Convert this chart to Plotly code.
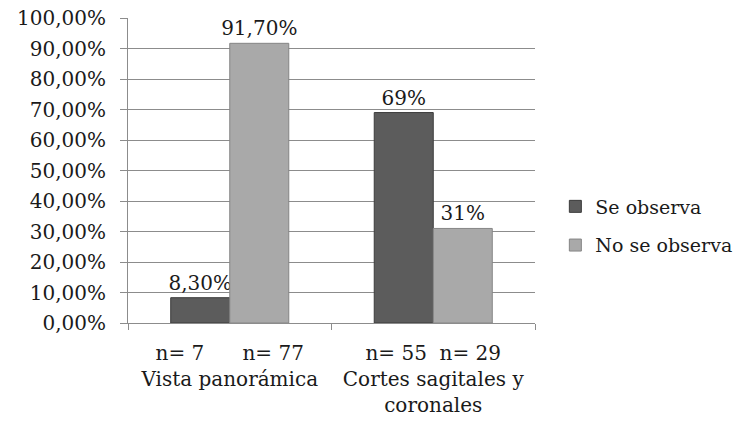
import plotly.graph_objects as go

categories = ["Vista panorámica", "Cortes sagitales y coronales"]
category_labels = ["Vista panorámica", "Cortes sagitales y<br>coronales"]
n_se = ["n= 7", "n= 55"]
n_no = ["n= 77", "n= 29"]
se_observa = [8.3, 69]
no_se_observa = [91.7, 31]
se_text = ["8,30%", "69%"]
no_text = ["91,70%", "31%"]
y_ticks = [0, 10, 20, 30, 40, 50, 60, 70, 80, 90, 100]
y_ticktext = ["0,00%", "10,00%", "20,00%", "30,00%", "40,00%", "50,00%",
              "60,00%", "70,00%", "80,00%", "90,00%", "100,00%"]

FONT = "DejaVu Serif"
FS = 20
NB = "\u00a0"
gaps = [6, 2]
ticktext = [f"{a}{NB * g}{b}<br>{c}" for a, b, c, g in zip(n_se, n_no, category_labels, gaps)]

fig = go.Figure()
fig.add_trace(go.Bar(
    name="Se observa", x=categories, y=se_observa, text=se_text,
    textposition="outside", cliponaxis=False, legendgroup="a",
    constraintext="none",
    marker=dict(color="#5c5c5c", line=dict(color="#3c3c3c", width=1)),
    textfont=dict(family=FONT, size=FS, color="#1a1a1a"),
))
fig.add_trace(go.Bar(
    name="No se observa", x=categories, y=no_se_observa, text=no_text,
    textposition="outside", cliponaxis=False, legendgroup="b",
    constraintext="none",
    marker=dict(color="#a9a9a9", line=dict(color="#858585", width=1)),
    textfont=dict(family=FONT, size=FS, color="#1a1a1a"),
))

fig.update_layout(
    width=744, height=430,
    margin=dict(l=128, r=209, t=18, b=107, autoexpand=False),
    paper_bgcolor="white", plot_bgcolor="white",
    barmode="group", bargap=0.42, bargroupgap=0,
    font=dict(family=FONT, size=FS, color="#1a1a1a"),
    showlegend=True,
    legend=dict(x=1.05, y=0.318, xanchor="left", yanchor="middle",
                tracegroupgap=11, itemwidth=30,
                font=dict(family=FONT, size=19, color="#1a1a1a"),
                bgcolor="rgba(0,0,0,0)"),
)
fig.update_xaxes(
    type="category", tickmode="array", tickvals=categories, ticktext=ticktext,
    tickson="boundaries", ticks="outside", ticklen=6, tickcolor="#8c8c8c",
    showline=True, linecolor="#8c8c8c", linewidth=1, showgrid=False,
    automargin=False, ticklabeloverflow="allow",
    ticklabelstandoff=12, tickfont=dict(family=FONT, size=FS, color="#1a1a1a"),
)
fig.update_yaxes(
    range=[0, 100], tickmode="array", tickvals=y_ticks, ticktext=y_ticktext,
    ticks="outside", ticklen=7, tickcolor="#8c8c8c",
    showline=True, linecolor="#8c8c8c", linewidth=1, automargin=False,
    ticklabeloverflow="allow",
    showgrid=True, gridcolor="#8c8c8c", gridwidth=1, zeroline=False,
    ticklabelstandoff=10, tickfont=dict(family=FONT, size=FS, color="#1a1a1a"),
)

fig.write_html(
    "out.html",
    config={"displayModeBar": False},
    post_script="document.body.style.margin='0';document.body.style.overflow='hidden';",
)
